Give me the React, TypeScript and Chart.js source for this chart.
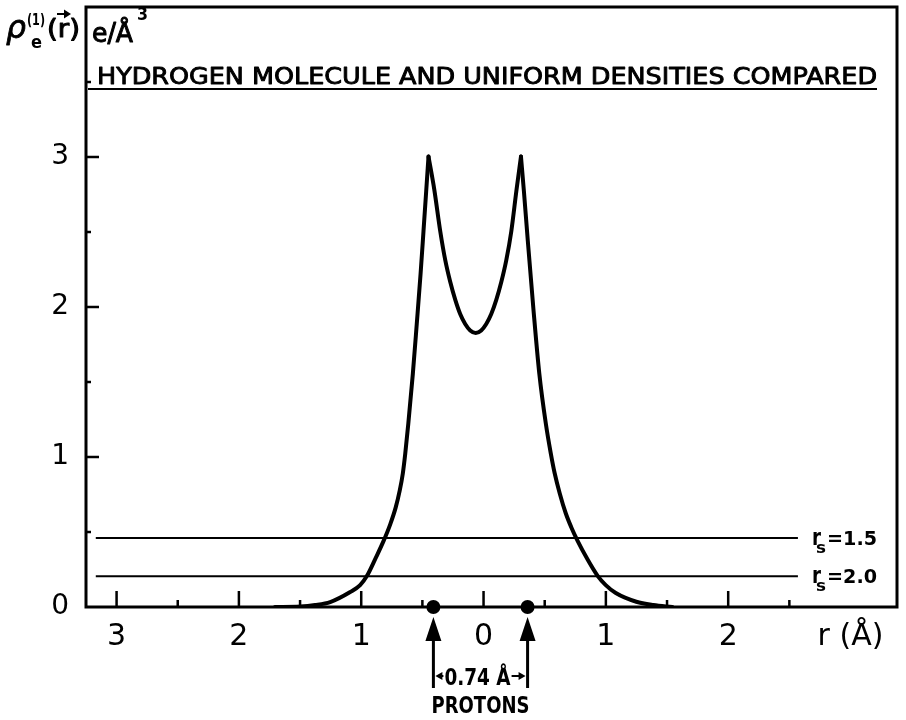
import React, { useEffect, useRef } from "react";
import { Chart, registerables } from "chart.js";

Chart.register(...registerables);

// ---------- data ----------
const curveR = [
  -1.705, -1.499, -1.377, -1.254, -1.09, -1.009, -0.954, -0.882, -0.818, -0.763, -0.718, -0.685, -0.66, -0.64, -0.615,
  -0.578, -0.546, -0.515, -0.491, -0.469, -0.45,
  -0.403, -0.354, -0.313, -0.272, -0.231, -0.191, -0.15, -0.109, -0.064, -0.019, 0.022, 0.063, 0.104, 0.145,
  0.186, 0.227, 0.268, 0.306,
  0.33, 0.362, 0.407, 0.456, 0.509, 0.55, 0.582, 0.623, 0.672, 0.717, 0.77, 0.844, 0.934, 0.999, 1.081, 1.249, 1.388,
  1.543,
];
const curveRho = [
  0.0, 0.003, 0.013, 0.033, 0.1, 0.146, 0.206, 0.326, 0.439, 0.551, 0.664, 0.777, 0.89, 1.023, 1.223,
  1.555, 1.887, 2.219, 2.505, 2.771, 3.003,
  2.784, 2.505, 2.312, 2.166, 2.047, 1.953, 1.887, 1.844, 1.827, 1.844, 1.887, 1.953, 2.047, 2.166,
  2.312, 2.505, 2.771, 3.003,
  2.771, 2.439, 1.993, 1.555, 1.223, 1.023, 0.89, 0.757, 0.625, 0.532, 0.439, 0.326, 0.206, 0.146, 0.093, 0.035, 0.013,
  0.0,
];
const peakIndices = [20, 38];

const protonR = [-0.41, 0.36];

const rsValues = ["1.5", "2.0"];
const rsDensity = [0.46, 0.205];
const rsLineStart = -3.17;
const rsLineEnd = 2.57;

const xTickValues = [-3, -2, -1, 0, 1, 2, 3];
const xTickLabels = ["3", "2", "1", "0", "1", "2", "r (Å)"];
const xMajorTicks = [-3, -2, -1, 0, 1, 2];
const xMinorTicks = [-2.5, -1.5, -0.5, 0.5, 1.5, 2.5];

const yTickValues = [0, 1, 2, 3];
const yTickLabels = ["0", "1", "2", "3"];
const yMajorTicks = [1, 2, 3];
const yMinorTicks = [0.5, 1.5, 2.5, 3.5];

const titleText = "HYDROGEN MOLECULE AND UNIFORM DENSITIES COMPARED";
const rhoSymbol = "ρ";
const rhoSup = "(1)";
const rhoSub = "e";
const rhoArg = "(r)";
const unitText = "e/Å";
const unitExp = "3";
const separationText = "0.74 Å";
const protonsText = "PROTONS";

const FONT = '"DejaVu Sans", "Liberation Sans", sans-serif';

function fitText(
  ctx: CanvasRenderingContext2D,
  text: string,
  x: number,
  baseline: number,
  width: number,
  font: string,
  stroke = 0
) {
  ctx.save();
  ctx.font = font;
  ctx.textAlign = "left";
  ctx.textBaseline = "alphabetic";
  const w = ctx.measureText(text).width || 1;
  ctx.translate(x, baseline);
  ctx.scale(width / w, 1);
  ctx.fillText(text, 0, 0);
  if (stroke > 0) {
    ctx.lineWidth = stroke;
    ctx.lineJoin = "round";
    ctx.strokeText(text, 0, 0);
  }
  ctx.restore();
}

const decorPlugin = {
  id: "decor",
  afterDraw(chart: any) {
    const ctx: CanvasRenderingContext2D = chart.ctx;
    const xs = chart.scales.x;
    const ys = chart.scales.y;
    const { left, right, top, bottom } = chart.chartArea;
    ctx.save();
    ctx.strokeStyle = "#000";
    ctx.fillStyle = "#000";
    ctx.lineCap = "butt";

    // frame
    ctx.lineWidth = 3;
    ctx.strokeRect(left, top, right - left, bottom - top);

    // inward ticks
    ctx.lineWidth = 2.5;
    ctx.beginPath();
    xMajorTicks.forEach((v) => {
      const p = xs.getPixelForValue(v);
      ctx.moveTo(p, bottom);
      ctx.lineTo(p, bottom - 16);
    });
    xMinorTicks.forEach((v) => {
      const p = xs.getPixelForValue(v);
      ctx.moveTo(p, bottom);
      ctx.lineTo(p, bottom - 7);
    });
    yMajorTicks.forEach((v) => {
      const p = ys.getPixelForValue(v);
      ctx.moveTo(left, p);
      ctx.lineTo(left + 13, p);
    });
    yMinorTicks.forEach((v) => {
      const p = ys.getPixelForValue(v);
      ctx.moveTo(left, p);
      ctx.lineTo(left + 5, p);
    });
    ctx.stroke();

    // title + underline
    fitText(ctx, titleText, 97, 84, 780, `23px ${FONT}`, 0.9);
    ctx.lineWidth = 2;
    ctx.beginPath();
    ctx.moveTo(88, 89);
    ctx.lineTo(877, 89);
    ctx.stroke();

    // axis quantity label at top-left
    fitText(ctx, rhoSymbol, 6, 38, 20, `italic 31px ${FONT}`, 0.8);
    fitText(ctx, rhoSup, 27, 25, 18, `bold 16px ${FONT}`);
    fitText(ctx, rhoSub, 31, 48, 11, `bold 18px ${FONT}`);
    fitText(ctx, rhoArg, 47, 37, 33, `24px ${FONT}`, 1);
    ctx.lineWidth = 2;
    ctx.beginPath();
    ctx.moveTo(57, 14);
    ctx.lineTo(65, 14);
    ctx.stroke();
    ctx.beginPath();
    ctx.moveTo(71, 14);
    ctx.lineTo(64, 9.5);
    ctx.lineTo(64, 18.5);
    ctx.closePath();
    ctx.fill();

    fitText(ctx, unitText, 92, 42, 41, `26px ${FONT}`, 1);
    fitText(ctx, unitExp, 137, 20, 11, `bold 18px ${FONT}`);

    // r_s labels
    rsDensity.forEach((d, i) => {
      const py = ys.getPixelForValue(d);
      fitText(ctx, "r", 812, py + 7, 9, `bold 23px ${FONT}`);
      fitText(ctx, "s", 816, py + 15, 10, `bold 16px ${FONT}`);
      fitText(ctx, "=" + rsValues[i], 827, py + 7, 50, `bold 19px ${FONT}`);
    });

    // proton arrows
    const pp = protonR.map((r) => xs.getPixelForValue(r));
    pp.forEach((px) => {
      ctx.beginPath();
      ctx.moveTo(px, 617);
      ctx.lineTo(px - 8, 641);
      ctx.lineTo(px + 8, 641);
      ctx.closePath();
      ctx.fill();
      ctx.lineWidth = 3;
      ctx.beginPath();
      ctx.moveTo(px, 639);
      ctx.lineTo(px, 688);
      ctx.stroke();
    });

    // separation marker
    const sy = 676;
    const [p0, p1] = pp;
    ctx.lineWidth = 2;
    ctx.beginPath();
    ctx.moveTo(p0 + 6, sy);
    ctx.lineTo(p0 + 10, sy);
    ctx.moveTo(p1 - 16, sy);
    ctx.lineTo(p1 - 7, sy);
    ctx.stroke();
    ctx.beginPath();
    ctx.moveTo(p0 + 2, sy);
    ctx.lineTo(p0 + 9, sy - 4);
    ctx.lineTo(p0 + 9, sy + 4);
    ctx.closePath();
    ctx.moveTo(p1 - 2, sy);
    ctx.lineTo(p1 - 9, sy - 4);
    ctx.lineTo(p1 - 9, sy + 4);
    ctx.closePath();
    ctx.fill();
    fitText(ctx, separationText, p0 + 11, 685, p1 - p0 - 28, `bold 23px ${FONT}`);

    // PROTONS
    const mid = (p0 + p1) / 2;
    fitText(ctx, protonsText, mid - 49, 713, 98, `bold 23px ${FONT}`);

    ctx.restore();
  },
};

function segment(from: number, to: number) {
  const pts: { x: number; y: number }[] = [];
  for (let i = from; i <= to; i++) pts.push({ x: curveR[i], y: curveRho[i] });
  return pts;
}

export default function App() {
  const canvasRef = useRef<HTMLCanvasElement | null>(null);

  useEffect(() => {
    const canvas = canvasRef.current;
    if (!canvas) return;
    const bounds = [0, ...peakIndices, curveR.length - 1];
    const curveSets = [];
    for (let k = 0; k < bounds.length - 1; k++) {
      curveSets.push({
        data: segment(bounds[k], bounds[k + 1]),
        borderColor: "#000",
        borderWidth: 4,
        pointRadius: 0,
        cubicInterpolationMode: "monotone",
        borderCapStyle: "round",
        borderJoinStyle: "round",
        fill: false,
      });
    }
    const rsSets = rsDensity.map((d) => ({
      data: [
        { x: rsLineStart, y: d },
        { x: rsLineEnd, y: d },
      ],
      borderColor: "#000",
      borderWidth: 2,
      pointRadius: 0,
      fill: false,
    }));
    const protonSet = {
      data: protonR.map((r) => ({ x: r, y: 0 })),
      showLine: false,
      pointRadius: 7,
      pointBackgroundColor: "#000",
      pointBorderColor: "#000",
      pointBorderWidth: 0,
      clip: false,
    };

    const chart = new Chart(canvas, {
      type: "line",
      data: { datasets: [...rsSets, ...curveSets, protonSet] as any },
      plugins: [decorPlugin],
      options: {
        responsive: false,
        devicePixelRatio: 1,
        animation: false,
        layout: { padding: { top: 5, right: 9, left: 0, bottom: 0 } },
        plugins: { legend: { display: false }, tooltip: { enabled: false } },
        scales: {
          x: {
            type: "linear",
            min: -3.25,
            max: 3.38,
            grid: { display: false },
            border: { display: false },
            afterBuildTicks: (s: any) => {
              s.ticks = xTickValues.map((v) => ({ value: v }));
            },
            afterFit: (s: any) => {
              s.height = 113;
              s.paddingLeft = 0;
              s.paddingRight = 0;
            },
            ticks: {
              autoSkip: false,
              maxRotation: 0,
              padding: 4,
              color: "#000",
              font: { family: FONT, size: 30 },
              callback: (_v: any, i: number) => xTickLabels[i],
            },
          },
          y: {
            type: "linear",
            min: 0,
            max: 4,
            grid: { display: false },
            border: { display: false },
            afterBuildTicks: (s: any) => {
              s.ticks = yTickValues.map((v) => ({ value: v }));
            },
            afterFit: (s: any) => {
              s.width = 86;
              s.paddingTop = 0;
              s.paddingBottom = 0;
            },
            ticks: {
              autoSkip: false,
              padding: 9,
              color: "#000",
              font: { family: FONT, size: 28 },
              callback: (_v: any, i: number) => yTickLabels[i],
            },
          },
        },
      } as any,
    });
    return () => chart.destroy();
  }, []);

  return (
    <div style={{ position: "fixed", left: 0, top: 0, width: 906, height: 720, background: "#fff" }}>
      <canvas ref={canvasRef} width={906} height={720} style={{ display: "block" }} />
    </div>
  );
}
